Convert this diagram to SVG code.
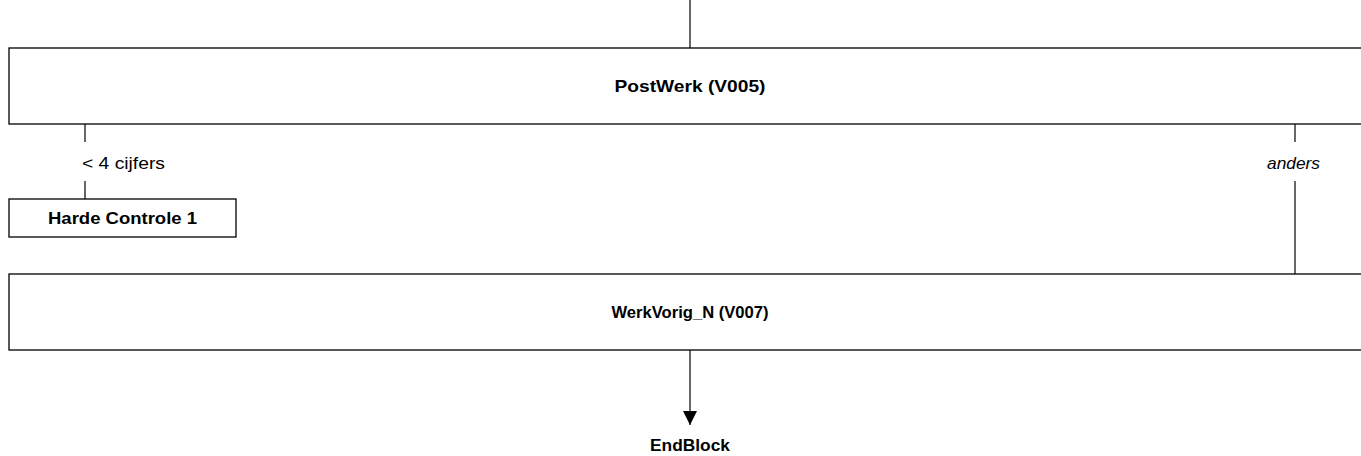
<svg xmlns="http://www.w3.org/2000/svg" width="1361" height="456" viewBox="0 0 1361 456">
<style>
.box{fill:#fff;stroke:#000;stroke-width:1.3}
.t{font-family:"Liberation Sans",Arial,sans-serif;font-size:17px;fill:#000}
.b{font-weight:bold;text-anchor:middle}
.ln{stroke:#000;stroke-width:1.2;fill:none}
</style>
<defs>
<marker id="arr" viewBox="0 0 14 14" refX="14" refY="7" markerWidth="14" markerHeight="14" markerUnits="userSpaceOnUse" orient="auto">
<path d="M0,0 L14,7 L0,14 z" fill="#000"/>
</marker>
</defs>
<g id="connectors">
<line class="ln" x1="690" y1="0" x2="690" y2="48"/>
<line class="ln" x1="85" y1="124" x2="85" y2="142"/>
<line class="ln" x1="85" y1="181" x2="85" y2="199"/>
<text class="t" x="82" y="169" textLength="83" lengthAdjust="spacingAndGlyphs">&lt; 4 cijfers</text>
<line class="ln" x1="1295" y1="124" x2="1295" y2="142"/>
<line class="ln" x1="1295" y1="181" x2="1295" y2="274"/>
<text class="t" x="1267" y="169" font-style="italic" textLength="53" lengthAdjust="spacingAndGlyphs">anders</text>
<line class="ln" x1="690" y1="350" x2="690" y2="425" marker-end="url(#arr)"/>
</g>
<g id="postwerk">
<rect class="box" x="9" y="48" width="1360" height="76"/>
<text class="t b" x="690" y="92" textLength="151" lengthAdjust="spacingAndGlyphs">PostWerk (V005)</text>
</g>
<g id="harde">
<rect class="box" x="9" y="199" width="227" height="38"/>
<text class="t b" x="122.5" y="224" textLength="149" lengthAdjust="spacingAndGlyphs">Harde Controle 1</text>
</g>
<g id="werkvorig">
<rect class="box" x="9" y="274" width="1360" height="76"/>
<text class="t b" x="690" y="318" style="font-size:16.5px" textLength="157" lengthAdjust="spacingAndGlyphs">WerkVorig_N (V007)</text>
</g>
<g id="endblock">
<text class="t b" x="690" y="451" textLength="80" lengthAdjust="spacingAndGlyphs">EndBlock</text>
</g>
</svg>
